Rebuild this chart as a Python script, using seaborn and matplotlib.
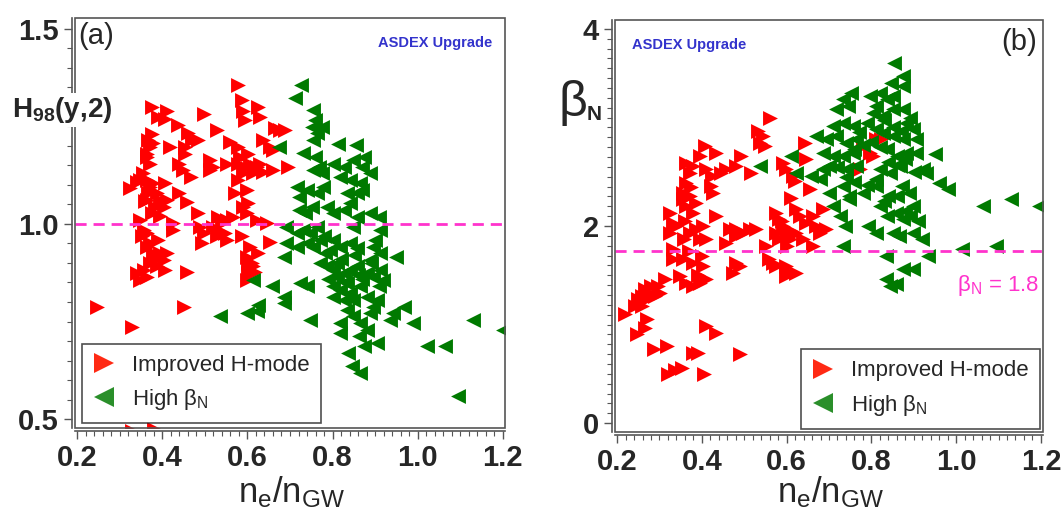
import numpy as np
import pandas as pd
import matplotlib
matplotlib.use("Agg")
import matplotlib.pyplot as plt
from matplotlib.lines import Line2D
from matplotlib.patches import Rectangle
from matplotlib.ticker import MultipleLocator, FormatStrFormatter
import seaborn as sns

# ---------------- data ----------------
# Panel (a): H98(y,2) vs ne/nGW
a_red_x = [0.579, 0.375, 0.41, 0.407, 0.39, 0.438, 0.497, 0.587, 0.59, 0.594, 0.626, 0.63,
           0.528, 0.461, 0.469, 0.485, 0.454, 0.665, 0.677, 0.689, 0.367, 0.371, 0.379, 0.418,
           0.454, 0.579, 0.583, 0.602, 0.637, 0.653, 0.661, 0.363, 0.371, 0.44, 0.448, 0.467,
           0.512, 0.52, 0.512, 0.551, 0.579, 0.594, 0.606, 0.622, 0.63, 0.59, 0.614, 0.637,
           0.661, 0.696, 0.579, 0.599, 0.324, 0.34, 0.348, 0.363, 0.371, 0.379, 0.367, 0.363,
           0.387, 0.395, 0.41, 0.403, 0.407, 0.44, 0.457, 0.485, 0.532, 0.54, 0.551, 0.567,
           0.52, 0.532, 0.528, 0.59, 0.602, 0.599, 0.622, 0.645, 0.348, 0.356, 0.352, 0.363,
           0.375, 0.383, 0.426, 0.426, 0.489, 0.497, 0.547, 0.551, 0.587, 0.493, 0.653, 0.363,
           0.379, 0.395, 0.41, 0.371, 0.387, 0.403, 0.407, 0.34, 0.348, 0.363, 0.356, 0.458,
           0.599, 0.602, 0.614, 0.602, 0.618, 0.599, 0.626, 0.606, 0.246, 0.45, 0.328, 0.33,
           0.38, 0.37, 0.385, 0.355, 0.36, 0.39, 0.375, 0.365, 0.395, 0.56, 0.57, 0.61]
a_red_y = [1.356, 1.30, 1.29, 1.27, 1.275, 1.253, 1.283, 1.317, 1.29, 1.266, 1.30, 1.275,
           1.24, 1.232, 1.215, 1.215, 1.198, 1.245, 1.24, 1.24, 1.215, 1.198, 1.207, 1.198,
           1.18, 1.198, 1.172, 1.18, 1.215, 1.198, 1.19, 1.172, 1.155, 1.155, 1.138, 1.121,
           1.164, 1.147, 1.138, 1.155, 1.155, 1.147, 1.155, 1.147, 1.155, 1.13, 1.13, 1.134,
           1.138, 1.147, 1.113, 1.087, 1.091, 1.108, 1.113, 1.113, 1.096, 1.104, 1.079, 1.061,
           1.079, 1.061, 1.061, 1.044, 1.104, 1.079, 1.057, 1.027, 1.019, 1.002, 1.01, 1.019,
           0.993, 0.985, 0.968, 1.044, 1.053, 1.027, 1.01, 1.002, 1.01, 0.985, 0.968, 0.976,
           1.027, 1.044, 1.002, 0.985, 0.993, 0.976, 0.976, 0.959, 0.968, 0.951, 0.955, 0.942,
           0.925, 0.925, 0.925, 0.899, 0.891, 0.908, 0.882, 0.874, 0.857, 0.865, 0.882, 0.878,
           0.916, 0.899, 0.891, 0.874, 0.878, 0.857, 0.925, 0.942, 0.788, 0.788, 0.737, 0.47,
           0.475, 0.95, 0.91, 1.13, 1.06, 0.96, 1.23, 1.18, 1.02, 1.21, 1.08, 0.90]

a_grn_x = [0.727, 0.712, 0.755, 0.759, 0.751, 0.763, 0.755, 0.774, 0.673, 0.731, 0.759, 0.767,
           0.755, 0.774, 0.813, 0.856, 0.802, 0.826, 0.849, 0.873, 0.869, 0.888, 0.818, 0.841,
           0.865, 0.716, 0.739, 0.72, 0.763, 0.778, 0.833, 0.857, 0.869, 0.72, 0.735, 0.751,
           0.786, 0.802, 0.826, 0.841, 0.857, 0.888, 0.908, 0.69, 0.716, 0.731, 0.747, 0.763,
           0.849, 0.912, 0.69, 0.716, 0.739, 0.755, 0.771, 0.782, 0.794, 0.818, 0.857, 0.685,
           0.896, 0.912, 0.888, 0.95, 0.771, 0.786, 0.802, 0.81, 0.826, 0.841, 0.857, 0.833,
           0.88, 0.896, 0.912, 0.919, 0.802, 0.818, 0.841, 0.865, 0.724, 0.739, 0.614, 0.657,
           0.685, 0.685, 0.626, 0.622, 0.599, 0.536, 0.747, 0.802, 0.826, 0.849, 0.88, 0.904,
           0.833, 0.849, 0.888, 0.896, 0.818, 0.818, 0.865, 0.88, 0.943, 0.935, 0.967, 0.99,
           0.861, 0.873, 0.904, 0.837, 0.845, 0.865, 1.021, 1.064, 1.13, 1.2, 1.095,
           0.79, 0.81, 0.83, 0.85, 0.87, 0.89, 0.80, 0.82, 0.84, 0.86, 0.78, 0.9, 0.91]
a_grn_y = [1.356, 1.322, 1.292, 1.266, 1.249, 1.232, 1.215, 1.249, 1.198, 1.181, 1.172, 1.147,
           1.138, 1.13, 1.206, 1.202, 1.155, 1.147, 1.164, 1.172, 1.147, 1.13, 1.121, 1.113,
           1.104, 1.096, 1.087, 1.07, 1.079, 1.096, 1.079, 1.079, 1.087, 1.036, 1.027, 1.044,
           1.044, 1.027, 1.036, 1.053, 1.019, 1.027, 1.019, 0.993, 0.976, 0.985, 0.976, 0.993,
           0.993, 0.985, 0.951, 0.942, 0.951, 0.942, 0.959, 0.925, 0.933, 0.942, 0.938, 0.916,
           0.942, 0.925, 0.908, 0.916, 0.899, 0.891, 0.882, 0.865, 0.874, 0.882, 0.891, 0.848,
           0.874, 0.865, 0.882, 0.857, 0.84, 0.831, 0.823, 0.84, 0.848, 0.84, 0.857, 0.84,
           0.814, 0.797, 0.793, 0.776, 0.771, 0.763, 0.754, 0.814, 0.805, 0.805, 0.814, 0.805,
           0.78, 0.763, 0.771, 0.788, 0.746, 0.72, 0.746, 0.729, 0.771, 0.754, 0.788, 0.746,
           0.712, 0.686, 0.695, 0.669, 0.635, 0.618, 0.686, 0.686, 0.754, 0.729, 0.558,
           0.86, 0.90, 0.85, 0.92, 0.86, 0.90, 0.96, 0.91, 0.95, 0.87, 0.97, 0.96, 0.84]

# Panel (b): beta_N vs ne/nGW
b_red_x = [0.56, 0.532, 0.544, 0.536, 0.548, 0.407, 0.434, 0.395, 0.363, 0.379, 0.371, 0.41,
           0.425, 0.445, 0.457, 0.493, 0.481, 0.517, 0.591, 0.599, 0.615, 0.619, 0.643, 0.646,
           0.654, 0.611, 0.363, 0.355, 0.355, 0.363, 0.371, 0.379, 0.387, 0.426, 0.422, 0.434,
           0.324, 0.332, 0.324, 0.34, 0.357, 0.371, 0.387, 0.402, 0.41, 0.395, 0.332, 0.332,
           0.355, 0.379, 0.402, 0.348, 0.363, 0.379, 0.395, 0.41, 0.466, 0.481, 0.497, 0.513,
           0.528, 0.457, 0.481, 0.481, 0.489, 0.473, 0.551, 0.558, 0.575, 0.583, 0.591, 0.599,
           0.575, 0.583, 0.607, 0.623, 0.631, 0.646, 0.662, 0.669, 0.623, 0.639, 0.662, 0.685,
           0.693, 0.678, 0.567, 0.575, 0.599, 0.607, 0.623, 0.599, 0.313, 0.297, 0.281, 0.266,
           0.273, 0.258, 0.25, 0.242, 0.258, 0.27, 0.289, 0.301, 0.218, 0.27, 0.266, 0.246,
           0.286, 0.318, 0.41, 0.434, 0.379, 0.39, 0.489, 0.321, 0.337, 0.353, 0.405, 0.78,
           0.796, 0.811, 0.803, 0.823, 0.772, 0.37, 0.39, 0.36, 0.6, 0.61, 0.59, 0.4, 0.375]
b_red_y = [3.10, 2.964, 2.914, 2.846, 2.812, 2.812, 2.745, 2.71, 2.643, 2.609, 2.541, 2.575,
           2.508, 2.541, 2.575, 2.71, 2.609, 2.541, 2.643, 2.575, 2.508, 2.457, 2.846, 2.677,
           2.372, 2.288, 2.44, 2.338, 2.271, 2.203, 2.305, 2.135, 2.237, 2.338, 2.406, 2.102,
           2.135, 2.034, 1.932, 2.0, 1.865, 1.932, 1.966, 2.0, 1.865, 1.865, 1.763, 1.662,
           1.662, 1.628, 1.594, 1.492, 1.425, 1.391, 1.425, 1.459, 1.966, 1.966, 1.932, 1.966,
           1.966, 1.831, 1.899, 1.628, 1.594, 1.526, 1.797, 1.662, 2.135, 2.068, 2.0, 1.932,
           1.932, 1.865, 1.865, 2.169, 2.102, 2.034, 2.102, 2.0, 1.932, 1.865, 1.797, 2.169,
           1.966, 1.932, 1.628, 1.594, 1.594, 1.526, 1.526, 1.492, 1.459, 1.391, 1.391, 1.357,
           1.323, 1.289, 1.255, 1.188, 1.188, 1.255, 1.289, 1.323, 1.103, 1.052, 0.968, 0.90,
           0.748, 0.782, 0.985, 0.917, 0.714, 0.714, 0.697, 0.494, 0.544, 0.562, 0.494, 2.812,
           2.745, 2.88, 2.71, 2.88, 2.575, 1.75, 1.50, 2.05, 1.80, 1.95, 2.05, 1.70, 2.40]

b_grn_x = [0.854, 0.874, 0.874, 0.846, 0.752, 0.733, 0.717, 0.744, 0.796, 0.82, 0.812, 0.836,
           0.851, 0.804, 0.828, 0.851, 0.875, 0.709, 0.733, 0.756, 0.882, 0.898, 0.67, 0.693,
           0.717, 0.741, 0.764, 0.827, 0.851, 0.874, 0.906, 0.685, 0.709, 0.733, 0.756, 0.836,
           0.86, 0.882, 0.906, 0.949, 0.611, 0.536, 0.685, 0.701, 0.74, 0.764, 0.82, 0.844,
           0.867, 0.921, 0.928, 0.623, 0.658, 0.678, 0.701, 0.733, 0.748, 0.78, 0.811, 0.84,
           0.873, 0.888, 0.96, 0.98, 0.709, 0.725, 0.748, 0.82, 0.836, 0.859, 0.875, 0.899,
           0.891, 0.737, 0.792, 0.812, 0.85, 0.866, 0.898, 0.919, 0.733, 0.933, 0.835, 0.874,
           0.898, 0.835, 0.858, 0.843, 1.015, 1.094, 1.063, 1.129, 1.196,
           0.77, 0.79, 0.81, 0.83, 0.85, 0.87, 0.89, 0.76, 0.78, 0.80, 0.82, 0.84, 0.86, 0.88,
           0.90, 0.72, 0.74, 0.76, 0.79, 0.81, 0.83, 0.86, 0.88, 0.91]
b_grn_y = [3.658, 3.523, 3.421, 3.455, 3.354, 3.286, 3.185, 3.218, 3.32, 3.354, 3.218, 3.286,
           3.32, 3.15, 3.117, 3.184, 3.184, 3.015, 3.049, 3.015, 3.049, 2.981, 2.914, 2.88,
           2.914, 2.846, 2.88, 2.948, 2.914, 2.88, 2.88, 2.745, 2.71, 2.71, 2.745, 2.778,
           2.71, 2.745, 2.745, 2.728, 2.71, 2.609, 2.575, 2.609, 2.575, 2.609, 2.575, 2.541,
           2.609, 2.575, 2.541, 2.541, 2.508, 2.474, 2.338, 2.406, 2.305, 2.338, 2.406, 2.305,
           2.406, 2.338, 2.44, 2.372, 2.203, 2.102, 2.271, 2.203, 2.102, 2.135, 2.068, 2.203,
           2.102, 2.0, 2.0, 1.932, 1.932, 1.899, 1.932, 1.865, 1.797, 1.695, 1.695, 1.56,
           1.56, 1.459, 1.408, 1.391, 1.763, 1.797, 2.203, 2.271, 2.203,
           2.95, 3.05, 2.98, 3.08, 3.0, 2.96, 3.1, 2.78, 2.82, 2.85, 2.80, 2.65, 2.62, 2.68,
           2.55, 2.60, 2.50, 2.45, 2.42, 2.48, 2.25, 2.30, 2.15, 2.05]

ref_a = 1.0
ref_b = 1.75

df_a = pd.concat([
    pd.DataFrame({"x": a_red_x, "y": a_red_y, "kind": "Improved H-mode"}),
    pd.DataFrame({"x": a_grn_x, "y": a_grn_y, "kind": "High"}),
])
df_b = pd.concat([
    pd.DataFrame({"x": b_red_x, "y": b_red_y, "kind": "Improved H-mode"}),
    pd.DataFrame({"x": b_grn_x, "y": b_grn_y, "kind": "High"}),
])

# ---------------- style ----------------
sns.set_style("ticks")
plt.rcParams["font.family"] = ["Liberation Sans", "DejaVu Sans"]
plt.rcParams["mathtext.fontset"] = "custom"
plt.rcParams["mathtext.rm"] = "Liberation Sans"
plt.rcParams["mathtext.it"] = "Liberation Sans:italic"
plt.rcParams["mathtext.bf"] = "Liberation Sans:bold"

RED = "#ff0000"
GREEN = "#007a00"
PINK = "#ff33cc"
BLUE = "#3333cc"
SPINE = "#555555"

W, H = 1064, 509
fig = plt.figure(figsize=(W / 100, H / 100), dpi=100)
ax_a = fig.add_axes([75 / W, 1 - 428 / H, 430 / W, 410 / H])
ax_b = fig.add_axes([615 / W, 1 - 432 / H, 428 / W, 412 / H])


def draw(ax, df, ylim, ymaj, ymin, yfmt):
    for kind, mk, col in [("Improved H-mode", ">", RED), ("High", "<", GREEN)]:
        sub = df[df["kind"] == kind]
        sns.scatterplot(data=sub, x="x", y="y", marker=mk, color=col, s=115,
                        linewidth=0, ax=ax, legend=False, zorder=3)
    ax.set_xlim(0.195, 1.205)
    ax.set_ylim(*ylim)
    ax.set_xlabel("")
    ax.set_ylabel("")
    ax.xaxis.set_major_locator(MultipleLocator(0.2))
    ax.xaxis.set_minor_locator(MultipleLocator(0.02))
    ax.yaxis.set_major_locator(MultipleLocator(ymaj))
    ax.yaxis.set_minor_locator(MultipleLocator(ymin))
    ax.xaxis.set_major_formatter(FormatStrFormatter("%.1f"))
    ax.yaxis.set_major_formatter(FormatStrFormatter(yfmt))
    for side in ["top", "right"]:
        ax.spines[side].set_visible(False)
    for side in ["left", "bottom"]:
        ax.spines[side].set_position(("outward", 2.5))
        ax.spines[side].set_color(SPINE)
        ax.spines[side].set_linewidth(1.2)
    ax.add_patch(Rectangle((0, 0), 1, 1, transform=ax.transAxes, fill=False,
                           edgecolor=SPINE, linewidth=1.2, clip_on=False, zorder=5))
    ax.tick_params(which="major", direction="out", length=6, width=1.0, color=SPINE,
                   labelsize=21, pad=3)
    ax.tick_params(which="minor", direction="out", length=3.5, width=0.8, color=SPINE)
    for lab in ax.get_xticklabels() + ax.get_yticklabels():
        lab.set_fontweight("bold")
    # x label placed at the bottom edge like the reference
    bb = ax.get_position()
    fig.text(bb.x0 + bb.width / 2 + 2 / W, 7 / H, r"n$_\mathregular{e}$/n$_\mathregular{GW}$",
             fontsize=25, ha="center", va="baseline")


draw(ax_a, df_a, (0.477, 1.528), 0.5, 0.05, "%.1f")
draw(ax_b, df_b, (-0.09, 4.09), 2, 0.1, "%d")

# reference lines
ax_a.axhline(ref_a, color=PINK, lw=2, ls=(0, (4, 2.5)), zorder=4)
ax_b.axhline(ref_b, color=PINK, lw=2, ls=(0, (4, 2.5)), zorder=4)
ax_b.text(0.99, 0.355, r"$\mathregular{\beta_N}$ = 1.8", transform=ax_b.transAxes,
          ha="right", va="center", color=PINK, fontsize=16)

# panel labels
ax_a.text(0.008, 0.955, "(a)", transform=ax_a.transAxes, fontsize=21, ha="left", va="center")
ax_b.text(0.985, 0.947, "(b)", transform=ax_b.transAxes, fontsize=21, ha="right", va="center")
ax_a.text(0.97, 0.94, "ASDEX Upgrade", transform=ax_a.transAxes, fontsize=10.5,
          fontweight="bold", color=BLUE, ha="right", va="center")
ax_b.text(0.04, 0.94, "ASDEX Upgrade", transform=ax_b.transAxes, fontsize=10.5,
          fontweight="bold", color=BLUE, ha="left", va="center")

# y labels
fig.text(12 / W, 1 - 110 / H, r"H$_\mathbf{98}$(y,2)", fontsize=20, fontweight="bold",
         ha="left", va="center", bbox=dict(facecolor="white", edgecolor="none", pad=1.5),
         zorder=10)
fig.text(558 / W, 1 - 103 / H, "β", fontsize=36, ha="left", va="center")
fig.text(587 / W, 1 - 115 / H, "N", fontsize=15, fontweight="bold", ha="left", va="center")

# legends
handles = [
    Line2D([], [], marker=">", ls="none", color="#ff2a14", markersize=15, markeredgewidth=0),
    Line2D([], [], marker="<", ls="none", color="#2a8f2a", markersize=15, markeredgewidth=0),
]
labels = ["Improved H-mode", r"High $\mathregular{\beta_N}$"]
for ax, loc, anchor in [(ax_a, "lower left", (0.016, 0.012)), (ax_b, "lower right", (0.993, 0.008))]:
    leg = ax.legend(handles, labels, loc=loc, bbox_to_anchor=anchor, fontsize=16,
                    frameon=True, fancybox=False, handletextpad=0.75, borderpad=0.5,
                    labelspacing=0.5, handlelength=1.0, borderaxespad=0)
    leg.get_frame().set_edgecolor("#222222")
    leg.get_frame().set_linewidth(1.2)
    leg.set_zorder(6)

fig.savefig("out.png", dpi=100)
